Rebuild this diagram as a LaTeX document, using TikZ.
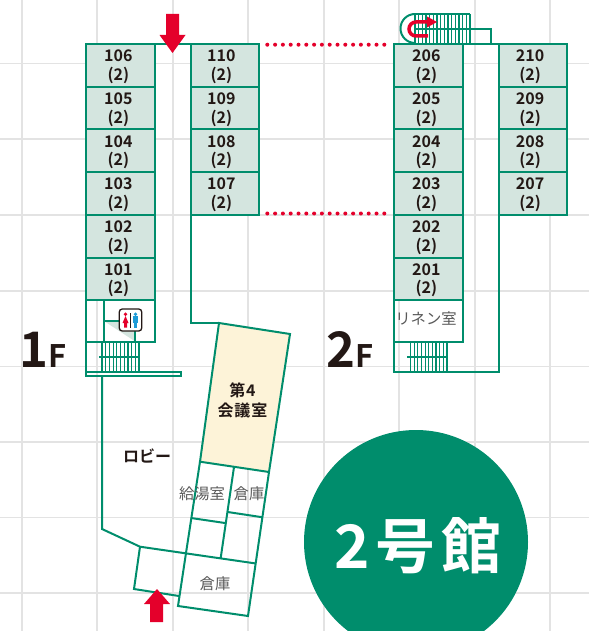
\documentclass[tikz,border=0pt]{standalone}
\usepackage{fontspec}
\setmainfont{Noto Sans CJK JP}[BoldFont={Noto Sans CJK JP Bold}]
\definecolor{wallgreen}{HTML}{008D6C}
\definecolor{roomgreen}{HTML}{D4E5DF}
\definecolor{confyellow}{HTML}{FDF3D8}
\definecolor{signred}{HTML}{E4002B}
\definecolor{inkblack}{HTML}{231815}
\definecolor{gridgray}{HTML}{E3E3E3}
\definecolor{mangblue}{HTML}{1E9BD7}
\tikzset{
    wall/.style={draw=wallgreen,line width=2pt},
    thinwall/.style={draw=wallgreen,line width=1.2pt},
    roombox/.style={wall,fill=roomgreen,anchor=north west,outer sep=0pt,minimum width=68.7pt,minimum height=42.7pt,inner sep=0pt},
    roomtext/.style={inner sep=0pt,align=center,text=inkblack,font=\fontsize{16}{18.5}\selectfont\bfseries},
    graylabel/.style={text=black!65,inner sep=0pt,font=\fontsize{15.3}{17}\selectfont},
    floorlabel/.style={text=inkblack,inner sep=0pt,anchor=base west,font=\bfseries},
    reddots/.style={signred,line width=4pt,line cap=round,dash pattern=on 0pt off 7.8pt}
}
\begin{document}
\begin{tikzpicture}[x=1pt,y=-1pt]
    \useasboundingbox (0,0) rectangle (589,631);
    % background grid
    \foreach \x in {22,97,173,248,324,399,475,550}
    \draw[gridgray,line width=1.3pt] (\x,0) -- (\x,631);
    \foreach \y in {63.5,139,215,291,366.5,442,517.5,593}
    \draw[gridgray,line width=1.3pt] (0,\y) -- (589,\y);

    % big circle
    \fill[wallgreen] (416,542) circle (112);
    \node[text=white,inner sep=0pt,font=\fontsize{60}{64}\selectfont\bfseries\addfontfeature{LetterSpace=10}] (bldg) at (418,546) {2号館};

    % 1F rooms
    \foreach \n [count=\i from 0] in {106,105,104,103,102,101} {
        \node[roombox] (r\n) at (86,44+42.7*\i) {};
        \node[roomtext] (t\n) at ([xshift=-2pt,yshift=-1.5pt]r\n.center) {\n\\(2)};
    }
    \foreach \n [count=\i from 0] in {110,109,108,107} {
        \node[roombox] (r\n) at (190.5,44+42.7*\i) {};
        \node[roomtext] (t\n) at ([xshift=-3.5pt,yshift=-1.5pt]r\n.center) {\n\\(2)};
    }
    \draw[wall] (155,44) -- (191,44);
    \draw[wall] (191,215) -- (191,323) -- (219,323);

    % 1F toilets and stairs
    \draw[wall] (86,300) rectangle (155,342);
    \draw[wall] (104,300) -- (104,342);
    \draw[wall] (104,320.5) -- (120,320.5);
    \fill[roomgreen] (105.5,322) -- (134.5,322) -- (134.5,341) -- cycle;
    \draw[wall] (135,331) -- (135,342);
    \draw[wall] (86,342) -- (86,376);
    \foreach \x in {0,...,10}
    \draw[thinwall] (102+3.7*\x,342) -- (102+3.7*\x,372);
    \draw[thinwall] (99,357) -- (139,357);
    \draw[wall,line width=1.5pt] (86,372) rectangle (181,376);

    % toilet sign
    \node[draw=inkblack,fill=white,rounded corners=3pt,line width=1.3pt,minimum width=22.5pt,minimum height=22pt,inner sep=0pt] (wc) at (130.5,320) {};
    \fill[signred] (125.5,314.2) circle (1.9);
    \fill[signred] (125.5,316) -- (128.5,323) -- (127,323) -- (127,327.5) -- (124,327.5) -- (124,323) -- (122.5,323) -- cycle;
    \fill[inkblack] (129.6,312.5) rectangle (131.4,327.5);
    \fill[mangblue] (135.5,314.2) circle (1.9);
    \fill[mangblue] (132.8,316.2) rectangle (138.2,322.5);
    \fill[mangblue] (134,322) rectangle (137,327.5);

    % lobby and conference room
    \draw[wall] (102,376) -- (102,529) -- (140,546.7) -- (256,563.5);
    \draw[wall,fill=confyellow] (219,323) -- (290,334) -- (269,472) -- (200,461.7) -- cycle;
    \draw[wall] (269,472) -- (248,616) -- (178,606) -- (186,553) -- (200,461.7);
    \draw[wall] (140,546.7) -- (134,589) -- (179,596);
    \draw[wall] (234,467) -- (220.7,558);
    \draw[wall] (227.7,512) -- (262.7,517.3);
    \draw[wall] (191,518) -- (225,523);

    % arrows
    \fill[signred] (166,14) -- (179,14) -- (179,35) -- (185.5,35) -- (172.5,53) -- (159.5,35) -- (166,35) -- cycle;
    \fill[signred] (150,622) -- (163,622) -- (163,604) -- (170,604) -- (157,589) -- (144,604) -- (150,604) -- cycle;

    % 2F rooms
    \foreach \n [count=\i from 0] in {206,205,204,203,202,201} {
        \node[roombox] (r\n) at (394,44+42.7*\i) {};
        \node[roomtext] (t\n) at ([xshift=-2pt,yshift=-1.5pt]r\n.center) {\n\\(2)};
    }
    \foreach \n [count=\i from 0] in {210,209,208,207} {
        \node[roombox] (r\n) at (498.7,44+42.7*\i) {};
        \node[roomtext] (t\n) at ([xshift=-3pt,yshift=-1.5pt]r\n.center) {\n\\(2)};
    }
    \draw[wall] (463,44) -- (499,44);
    \node[wall,anchor=north west,outer sep=0pt,minimum width=68.7pt,minimum height=42.3pt,inner sep=0pt] (linen) at (394,300) {};
    \node[graylabel] (linentext) at (426,318) {リネン室};
    \draw[wall] (394,342) -- (394,372) -- (498.7,372) -- (498.7,215);
    \foreach \x in {0,...,10}
    \draw[thinwall] (410.5+3.65*\x,342) -- (410.5+3.65*\x,372);
    \draw[thinwall] (407,357) -- (447,357);

    % upper stairs
    \draw[wall] (415,43) arc[start angle=90,end angle=270,radius=14.5];
    \foreach \x in {0,...,15}
    \draw[thinwall] (415+3.67*\x,14) -- (415+3.67*\x,44);
    \draw[thinwall] (415,14) -- (470,14);
    \draw[thinwall] (415,29) -- (491,29);
    \draw[wall] (470,29) -- (491,29) -- (491,44);
    \draw[signred,line width=3.5pt] (428,36) -- (416,36) arc[start angle=90,end angle=270,radius=7] -- (428,22);
    \fill[signred] (427,16.5) -- (437,22) -- (427,27.5) -- cycle;

    % dotted links
    \draw[reddots] (267.3,44.7) -- (389,44.7);
    \draw[reddots] (267.3,213.5) -- (389,213.5);

    % labels
    \node[text=inkblack,inner sep=0pt,align=center,font=\fontsize{16}{20}\selectfont\bfseries\addfontfeature{LetterSpace=5}] (conf) at (242.5,400) {第4\\会議室};
    \node[text=inkblack,inner sep=0pt,font=\fontsize{16}{18}\selectfont\bfseries] (lobby) at (147,456) {ロビー};
    \node[graylabel] (kyuto) at (202,494) {給湯室};
    \node[graylabel] (soko1) at (249,494) {倉庫};
    \node[graylabel] (soko2) at (215,583.5) {倉庫};
    \node[floorlabel,font=\fontsize{49}{49}\selectfont\bfseries] (one) at (19,367) {1};
    \node[floorlabel,font=\fontsize{31}{31}\selectfont\bfseries] (oneF) at (48,367) {F};
    \node[floorlabel,font=\fontsize{49}{49}\selectfont\bfseries] (two) at (326,367) {2};
    \node[floorlabel,font=\fontsize{31}{31}\selectfont\bfseries] (twoF) at (355,367) {F};
\end{tikzpicture}
\end{document}
